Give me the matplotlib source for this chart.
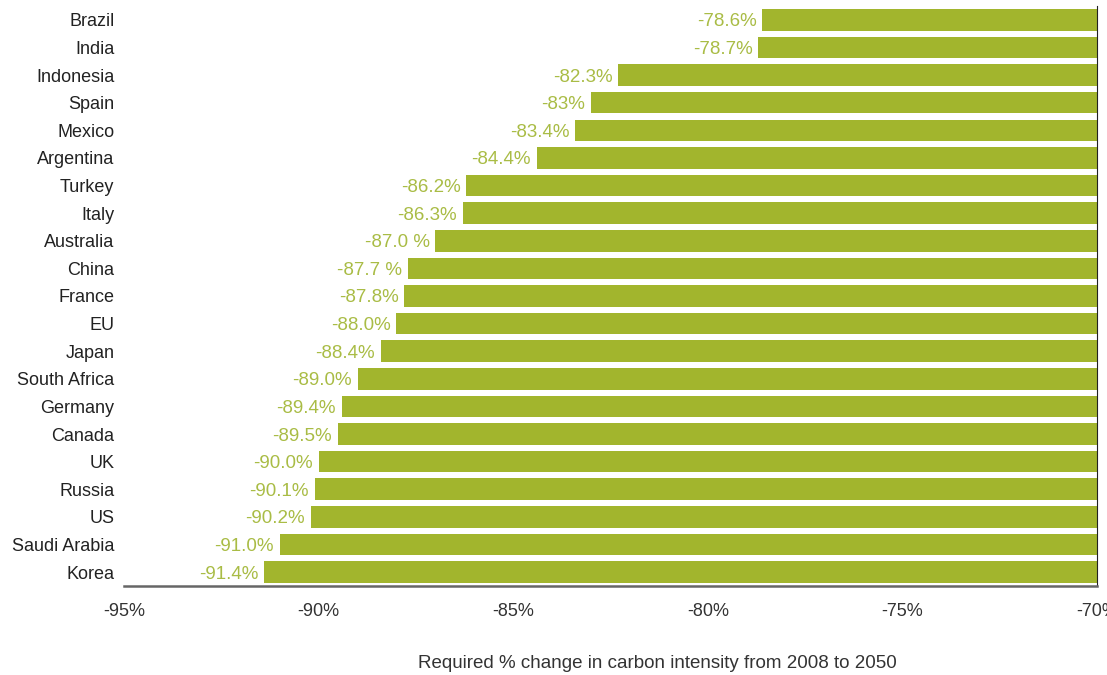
import matplotlib.pyplot as plt

plt.rcParams['font.family'] = ['Liberation Sans', 'DejaVu Sans']

countries = ["Brazil", "India", "Indonesia", "Spain", "Mexico", "Argentina", "Turkey",
             "Italy", "Australia", "China", "France", "EU", "Japan", "South Africa",
             "Germany", "Canada", "UK", "Russia", "US", "Saudi Arabia", "Korea"]
values = [-78.6, -78.7, -82.3, -83.0, -83.4, -84.4, -86.2, -86.3, -87.0, -87.7, -87.8,
          -88.0, -88.4, -89.0, -89.4, -89.5, -90.0, -90.1, -90.2, -91.0, -91.4]
value_labels = ["-78.6%", "-78.7%", "-82.3%", "-83%", "-83.4%", "-84.4%", "-86.2%",
                "-86.3%", "-87.0 %", "-87.7 %", "-87.8%", "-88.0%", "-88.4%", "-89.0%",
                "-89.4%", "-89.5%", "-90.0%", "-90.1%", "-90.2%", "-91.0%", "-91.4%"]
xticks = [-95, -90, -85, -80, -75, -70]

bar_color = '#a2b52d'
label_color = '#a9bc45'

fig = plt.figure(figsize=(11.07, 6.75), dpi=100)
ax = fig.add_axes([0.112, 0.132, 0.879, 0.859])

ypos = list(range(len(countries)))
base = -70
ax.barh(ypos, [base - v for v in values], left=values, height=0.78, color=bar_color)

for y, v, lab in zip(ypos, values, value_labels):
    ax.text(v - 0.15, y, lab, ha='right', va='center_baseline', color=label_color, fontsize=13.5)

ax.set_xlim(-95, -70)
ax.set_ylim(len(countries) - 0.5, -0.5)
ax.set_yticks(ypos)
ax.set_yticklabels(countries, fontsize=13, color='#222222')
ax.set_xticks(xticks)
ax.set_xticklabels([f"{t}%" for t in xticks], fontsize=13, color='#333333')
ax.tick_params(axis='both', length=0)
ax.tick_params(axis='x', pad=12)
ax.tick_params(axis='y', pad=7)

for s in ['top', 'left']:
    ax.spines[s].set_visible(False)
ax.spines['bottom'].set_color('#666666')
ax.spines['bottom'].set_linewidth(1.8)
ax.spines['right'].set_color('#222222')
ax.spines['right'].set_linewidth(0.8)

ax.set_xlabel("Required % change in carbon intensity from 2008 to 2050",
              fontsize=13.5, color='#333333')
ax.xaxis.set_label_coords(0.548, -0.12)

fig.savefig('out.png', dpi=100)
